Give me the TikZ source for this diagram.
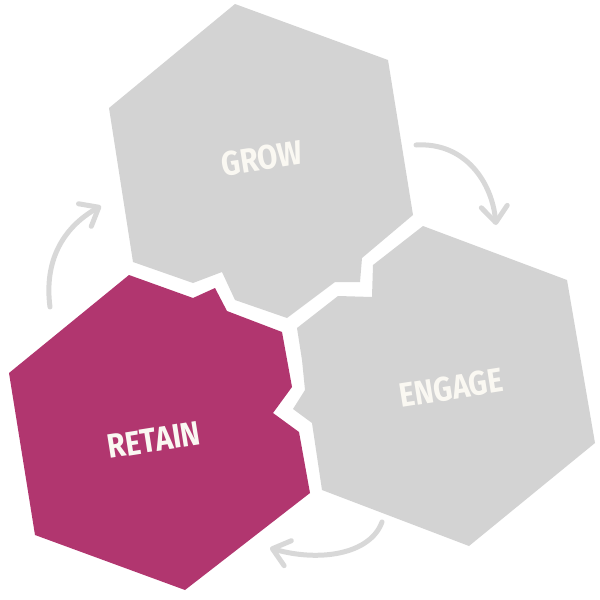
\documentclass[tikz,border=0pt]{standalone}
\usepackage{fontspec}
\setmainfont{Fira Sans}
\usetikzlibrary{arrows.meta}
\definecolor{hexgray}{RGB}{211,211,211}
\definecolor{hexmag}{RGB}{177,54,111}
\definecolor{arrgray}{RGB}{216,216,216}
\definecolor{txtwhite}{RGB}{250,248,242}
\tikzset{
  label/.style={text=txtwhite, font=\fontsize{34}{34}\selectfont\bfseries, rotate=9, xscale=0.86, inner sep=0pt},
  cyclearrow/.style={draw=arrgray, line width=5pt, line cap=round, line join=round,
    -{Straight Barb[length=16pt,width=26pt,line cap=round,line join=round]}}
}
\begin{document}
\begin{tikzpicture}[x=1pt,y=-1pt]
\useasboundingbox (0,0) rectangle (600,600);
% GROW
\fill[hexgray] (109,108) -- (235,4) -- (388,60) -- (413,215) -- (362,258) -- (360,282)
  -- (335,282) -- (287,318) -- (235,300) -- (222,272) -- (193,283) -- (133,262) -- cycle;
% ENGAGE
\fill[hexgray] (297,328) -- (338,296) -- (372,297) -- (373,265) -- (423,226) -- (567,280)
  -- (595,443) -- (469,546) -- (322,490) -- (312,423) -- (293,409) -- (305,390) -- (302,360) -- cycle;
% RETAIN
\fill[hexmag] (9,373) -- (129,275) -- (193,298) -- (215,288) -- (227,311) -- (282,332)
  -- (292,387) -- (273,413) -- (299,432) -- (310,493) -- (185,590) -- (35,535) -- cycle;
\node[label] (grow) at (262,158) {GROW};
\node[label] (engage) at (451,388) {ENGAGE};
\node[label] (retain) at (154,440) {RETAIN};
\coordinate (a1s) at (50,307);
\coordinate (a1e) at (101,206);
\coordinate (a2s) at (416,145);
\coordinate (a2e) at (496,225);
\coordinate (a3s) at (382,522);
\coordinate (a3e) at (270,548);
\draw[cyclearrow] (a1s) .. controls (44,262) and (62,228) .. (a1e);
\draw[cyclearrow] (a2s) .. controls (465,142) and (492,182) .. (a2e);
\draw[cyclearrow] (a3s) .. controls (370,555) and (318,562) .. (a3e);
\end{tikzpicture}
\end{document}
